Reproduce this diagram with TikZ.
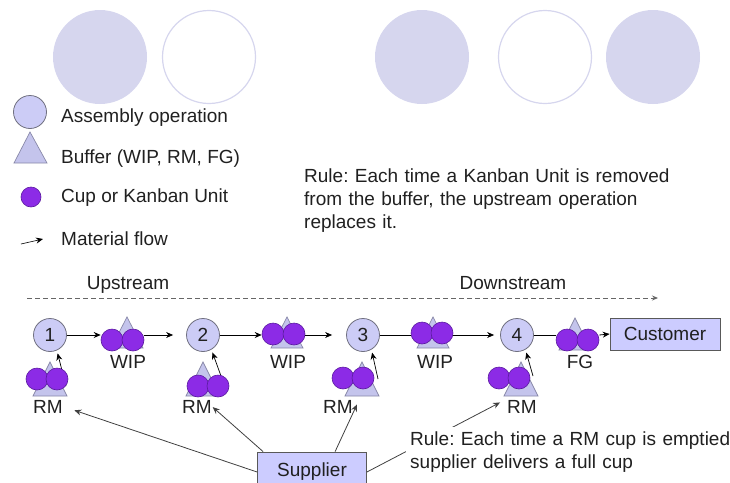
\documentclass[tikz,border=0pt]{standalone}
\usepackage{fontspec}
\setmainfont{Liberation Sans}
\usetikzlibrary{arrows.meta,calc}
\definecolor{lav}{HTML}{D6D6EE}
\definecolor{opfill}{HTML}{CCCCF6}
\definecolor{opline}{HTML}{707080}
\definecolor{buffill}{HTML}{C4C4EC}
\definecolor{bufline}{HTML}{8888A8}
\definecolor{cupfill}{HTML}{8C2BE6}
\definecolor{cupline}{HTML}{5A1B9E}
\definecolor{boxfill}{HTML}{CCCCFF}
\definecolor{ink}{HTML}{202020}
\begin{document}
\frenchspacing
\begin{tikzpicture}[x=1pt,y=-1pt, font=\fontsize{19}{23}\selectfont, text=ink,
  bigfill/.style={circle, fill=lav, minimum size=94pt, inner sep=0},
  bigopen/.style={circle, draw=lav, line width=1.2pt, fill=white, minimum size=93pt, inner sep=0},
  op/.style={circle, draw=opline, fill=opfill, minimum size=33pt, inner sep=0, line width=0.8pt},
  cup/.style={circle, draw=cupline, fill=cupfill, minimum size=22pt, inner sep=0, line width=0.6pt},
  bufstyle/.style={draw=bufline, fill=buffill, line width=0.7pt},
  txt/.style={anchor=base west, inner sep=0},
  lbl/.style={anchor=base, inner sep=0},
  flow/.style={-{Stealth[length=7pt,width=6pt]}, line width=0.8pt, draw=black},
  sflow/.style={flow, draw=black!75},
  box/.style={draw=black!65, fill=boxfill, inner sep=0, line width=0.8pt},
]
\useasboundingbox (0,0) rectangle (730,482);

% decorative circles
\node[bigfill] (b1) at (100,57) {};
\node[bigopen] (b2) at (209,57) {};
\node[bigfill] (b3) at (422,57) {};
\node[bigopen] (b4) at (545,57) {};
\node[bigfill] (b5) at (653,57) {};

% legend
\node[op] (lgop) at (30,112) {};
\node[txt] (lgopt) at (61,122) {Assembly operation};
\path[bufstyle] (30,132) -- (47,163) -- (14,163) -- cycle;
\node[txt] (lgbuft) at (61,163) {Buffer (WIP, RM, FG)};
\node[cup, minimum size=20pt] (lgcup) at (31,197) {};
\node[txt] (lgcupt) at (61,202) {Cup or Kanban Unit};
\coordinate (lgfa) at (21,244);
\coordinate (lgfb) at (43,239);
\draw[flow, line width=0.6pt] (lgfa) -- (lgfb);
\node[txt] (lgflowt) at (61,245) {Material flow};

% rule 1
\node[txt, text width=400pt, align=left] (rule1) at (304,182)
  {Rule: Each time a Kanban Unit is removed\\from the buffer, the upstream operation\\replaces it.};

% upstream / downstream
\coordinate (dA) at (27,298);
\coordinate (dB) at (658,298);
\draw[dashed, dash pattern=on 5pt off 3pt, draw=black!60, line width=0.9pt, -{Stealth[length=6pt,width=5pt]}] (dA) -- (dB);
\node[lbl] (up) at (128,289) {Upstream};
\node[lbl] (down) at (513,289) {Downstream};

% buffer triangles
\path[bufstyle] (127,317) -- (143,348) -- (111,348) -- cycle;
\path[bufstyle] (287,317) -- (303,348) -- (271,348) -- cycle;
\path[bufstyle] (433,317) -- (449,348) -- (417,348) -- cycle;
\path[bufstyle] (575,318) -- (591,350) -- (559,350) -- cycle;
\path[bufstyle] (50,362) -- (67,396) -- (33,396) -- cycle;
\path[bufstyle] (203,362) -- (220,396) -- (186,396) -- cycle;
\path[bufstyle] (362,362) -- (379,396) -- (345,396) -- cycle;
\path[bufstyle] (521,362) -- (538,396) -- (504,396) -- cycle;

% operations
\node[op] (n1) at (50,335) {1};
\node[op] (n2) at (203,335) {2};
\node[op] (n3) at (363,335) {3};
\node[op] (n4) at (517,335) {4};
\node[box, minimum width=110pt, minimum height=32pt] (cust) at (665,334) {Customer};

% raw material to operations (drawn beneath the cups)
\coordinate (r1s) at (66,386);
\coordinate (r2s) at (221,376);
\coordinate (r3s) at (378,379);
\coordinate (r4s) at (533,376);
\draw[flow, line width=0.7pt, shorten >=3pt] (r1s) -- (n1.-66);
\draw[flow, line width=0.7pt, shorten >=3pt] (r2s) -- (n2.-60);
\draw[flow, line width=0.7pt, shorten >=3pt] (r3s) -- (n3.-60);
\draw[flow, line width=0.7pt, shorten >=3pt] (r4s) -- (n4.-60);

% cups
\node[cup] (w1a) at (112,340) {};
\node[cup] (w1b) at (133,340) {};
\node[cup] (w2a) at (273,334) {};
\node[cup] (w2b) at (294,334) {};
\node[cup] (w3a) at (422,333) {};
\node[cup] (w3b) at (442,333) {};
\node[cup] (fga) at (567,340) {};
\node[cup] (fgb) at (588,340) {};
\node[cup] (r1a) at (37,379) {};
\node[cup] (r1b) at (57,379) {};
\node[cup] (r2a) at (198,386) {};
\node[cup] (r2b) at (218,386) {};
\node[cup] (r3a) at (343,378) {};
\node[cup] (r3b) at (363,378) {};
\node[cup] (r4a) at (499,378) {};
\node[cup] (r4b) at (519,378) {};

% material flow along the line
\draw[flow] (n1.east) -- (n1.east -| w1a.west);
\draw[flow, shorten >=13pt] (n1.east -| w1b.east) -- (n2.west);
\draw[flow] (n2.east) -- (n2.east -| w2a.west);
\draw[flow, shorten >=14pt] (n2.east -| w2b.east) -- (n3.west);
\draw[line width=0.8pt] (n3.east) -- (n3.east -| w3a.west);
\draw[flow, shorten >=6pt] (n3.east -| w3b.east) -- (n4.west);
\draw[line width=0.8pt] (n4.east) -- (n4.east -| fga.west);
\draw[flow] (n4.east -| fgb.east) -- (cust.west);

% labels
\node[lbl] (w1l) at (128,368) {WIP};
\node[lbl] (w2l) at (288,368) {WIP};
\node[lbl] (w3l) at (435,368) {WIP};
\node[lbl] (fgl) at (580,368) {FG};
\node[lbl] (rm1l) at (48,413) {RM};
\node[lbl] (rm2l) at (197,413) {RM};
\node[lbl] (rm3l) at (338,413) {RM};
\node[lbl] (rm4l) at (522,413) {RM};

% supplier
\node[box, minimum width=109pt, minimum height=40pt] (sup) at (312,472) {Supplier};
\draw[sflow, shorten >=12pt] (sup.west) -- (rm1l.east);
\draw[sflow, shorten >=1pt] ($(sup.north west)+(6,0)$) -- (rm2l.east);
\draw[sflow] ($(sup.north west)+(78,0)$) -- ($(rm3l.east)+(4,-2)$);
\draw[sflow] (sup.east) -- ($(rm4l.west)+(-7,-4)$);

% rule 2
\node[txt, text width=340pt, align=left, fill=white, inner sep=4pt] (rule2) at (406,445)
  {Rule: Each time a RM cup is emptied\\supplier delivers a full cup};
\end{tikzpicture}
\end{document}
